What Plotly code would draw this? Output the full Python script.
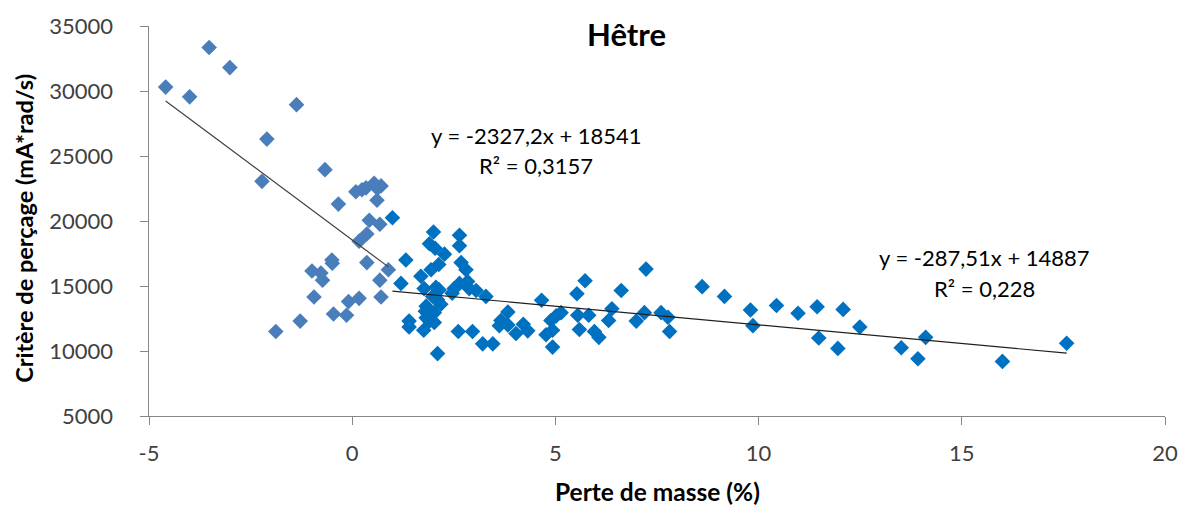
import plotly.graph_objects as go

# Series 1 (light blue): mass loss < ~1 %
x1 = [-4.59, -4.00, -3.52, -3.01, -1.37, -2.10, -2.22, -0.67, -0.34, 0.09, 0.24, 0.34, 0.54, 0.71,
      0.62, 0.61, 0.42, 0.68, 0.36, 0.17, -0.50, -0.49, 0.36, 0.89, -0.99, -0.77, -0.73, 0.68,
      -0.94, -0.09, 0.17, 0.71, -0.46, -0.14, -1.28, -1.88]
y1 = [30300, 29550, 33350, 31800, 28950, 26300, 23050, 23950, 21300, 22250, 22400, 22550, 22900, 22700,
      22500, 21600, 20050, 19750, 19000, 18450, 17000, 16750, 16800, 16250, 16150, 16000, 15450, 15450,
      14150, 13800, 14050, 14150, 12850, 12750, 12300, 11500]

# Series 2 (dark blue): mass loss > ~1 %
x2 = [0.99, 2.00, 2.64, 1.90, 2.04, 2.64, 2.27, 1.32, 2.68, 2.13, 1.94, 2.80, 1.69, 1.20, 2.84, 2.64,
      1.77, 2.06, 2.14, 2.51, 2.46, 2.88, 3.05, 3.29, 1.98, 2.10, 2.18, 1.82, 1.80, 2.02, 1.82, 1.90,
      2.02, 1.40, 1.40, 1.76, 2.10, 2.61, 2.96, 3.21, 3.46, 3.83, 3.66, 3.62, 3.83, 4.03, 4.21, 4.32,
      4.66, 4.77, 4.89, 4.93, 4.93, 5.02, 5.14, 5.53, 5.73, 5.55, 5.82, 5.59, 5.96, 6.07, 6.31, 6.39,
      6.62, 6.99, 7.19, 7.23, 7.60, 7.77, 7.81, 8.61, 9.16, 9.80, 9.86, 10.44, 10.97, 11.44, 11.48,
      12.08, 11.95, 12.49, 13.51, 13.92, 14.11, 16.00, 17.58]
y2 = [20250, 19150, 18900, 18250, 17900, 18100, 17450, 17000, 16800, 16650, 16250, 16250, 15750, 15200,
      15350, 15200, 14800, 14900, 14700, 14800, 14450, 14800, 14650, 14200, 14200, 13950, 13600, 13450,
      13050, 12950, 12550, 12300, 12200, 12300, 11850, 11600, 9800, 11500, 11500, 10550, 10550, 13000,
      12350, 11950, 12000, 11350, 12050, 11550, 13900, 11250, 12350, 11600, 10300, 12700, 12950, 14400,
      15400, 12750, 12750, 11650, 11500, 11050, 12350, 13250, 14650, 12300, 12950, 16300, 12950, 12600,
      11500, 14950, 14200, 13150, 11950, 13500, 12900, 13400, 11000, 13200, 10200, 11850, 10250, 9400,
      11050, 9200, 10600]

# Excel linear trendline equations (slope, intercept) and R² as shown on the chart
slope1, intercept1, r2_1 = -2327.2, 18541, "0,3157"
slope2, intercept2, r2_2 = -287.51, 14887, "0,228"

x_ticks = [-5, 0, 5, 10, 15, 20]
x_ticktext = ["-5", "0", "5", "10", "15", "20"]
y_ticks = [5000, 10000, 15000, 20000, 25000, 30000, 35000]
y_ticktext = ["5000", "10000", "15000", "20000", "25000", "30000", "35000"]

FONT = "Lato, Open Sans, sans-serif"
TICK_COLOR = "#404040"
PAD = "\u00a0" * 4  # gap between y tick labels and the axis

fig = go.Figure()
fig.add_trace(go.Scatter(x=x1, y=y1, mode="markers",
                         marker=dict(symbol="diamond", size=12, color="#4A7EBB"), showlegend=False))
fig.add_trace(go.Scatter(x=x2, y=y2, mode="markers",
                         marker=dict(symbol="diamond", size=12, color="#0070C0"), showlegend=False))

tx1 = [min(x1), max(x1)]
tx2 = [min(x2), max(x2)]
fig.add_trace(go.Scatter(x=tx1, y=[slope1 * v + intercept1 for v in tx1], mode="lines",
                         line=dict(color="#404040", width=1.2), showlegend=False))
fig.add_trace(go.Scatter(x=tx2, y=[slope2 * v + intercept2 for v in tx2], mode="lines",
                         line=dict(color="#202020", width=1.2), showlegend=False))


def fmt(v):
    return str(v).replace(".", ",")


fig.update_layout(
    width=1190, height=507,
    margin=dict(l=149, r=25, t=22, b=91),
    plot_bgcolor="white", paper_bgcolor="white",
    font=dict(family=FONT, size=19, color="#000000"),
    xaxis=dict(range=[-5, 20], tickvals=x_ticks, ticktext=x_ticktext, showgrid=False, zeroline=False,
               showline=True, linecolor="#878787", linewidth=1, ticks="outside",
               tickcolor="#878787", ticklen=8, ticklabelstandoff=10,
               tickfont=dict(size=22, color=TICK_COLOR)),
    yaxis=dict(range=[5000, 35000], tickvals=y_ticks, ticktext=[t + PAD for t in y_ticktext],
               showgrid=False, zeroline=False,
               showline=True, linecolor="#878787", linewidth=1, ticks="outside",
               tickcolor="#878787", ticklen=8,
               tickfont=dict(size=22, color=TICK_COLOR)),
    annotations=[
        dict(text="<b>Hêtre</b>", xref="paper", yref="paper", x=0.4695, y=0.98,
             xanchor="center", yanchor="middle", showarrow=False, font=dict(size=31)),
        dict(text="<b>Perte de masse (%)</b>", xref="paper", yref="paper", x=0.50, y=-0.193,
             xanchor="center", yanchor="middle", showarrow=False, font=dict(size=24.5)),
        dict(text="<b>Critère de perçage (mA*rad/s)</b>", xref="paper", yref="paper", x=-0.123, y=0.48,
             xanchor="center", yanchor="middle", textangle=-90, showarrow=False, font=dict(size=23.5)),
        dict(text=f"y = {fmt(slope1)}x + {intercept1}", x=4.53, y=26540,
             xanchor="center", yanchor="middle", showarrow=False, font=dict(size=22)),
        dict(text=f"R² = {r2_1}", x=4.53, y=24250,
             xanchor="center", yanchor="middle", showarrow=False, font=dict(size=22)),
        dict(text=f"y = {fmt(slope2)}x + {intercept2}", x=15.57, y=17180,
             xanchor="center", yanchor="middle", showarrow=False, font=dict(size=22)),
        dict(text=f"R² = {r2_2}", x=15.57, y=14820,
             xanchor="center", yanchor="middle", showarrow=False, font=dict(size=22)),
    ],
)

fig.write_html("out.html")
